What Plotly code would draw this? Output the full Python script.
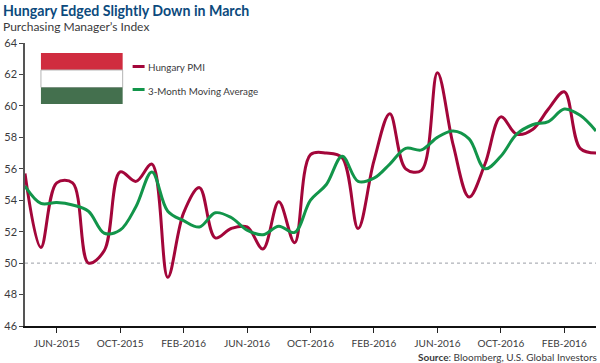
import plotly.graph_objects as go

TITLE = "Hungary Edged Slightly Down in March"
SUBTITLE = "Purchasing Manager’s Index"
SOURCE = "<b>Source</b>: Bloomberg, U.S. Global Investors"
SERIES_A = "Hungary PMI"
SERIES_B = "3-Month Moving Average"

months = list(range(37))
pmi = [55.7, 51.0, 55.1, 55.1, 50.0, 50.8, 55.8, 55.2, 56.3, 49.1, 53.2, 54.8, 51.6,
       52.2, 52.3, 50.9, 53.9, 51.3, 56.9, 57.0, 56.7, 52.2, 56.5, 59.5, 56.0, 55.9,
       62.1, 57.5, 54.2, 56.3, 59.3, 58.2, 58.5, 59.8, 60.9, 57.3, 57.0]
avg = [54.9, 53.8, 53.85, 53.7, 53.3, 51.9, 52.1, 53.6, 55.8, 53.3, 52.7, 52.3, 53.2,
       52.9, 52.1, 51.8, 52.35, 51.95, 54.0, 55.0, 56.8, 55.2, 55.4, 56.3, 57.3, 57.2,
       58.0, 58.4, 57.9, 56.0, 56.8, 58.2, 58.8, 59.0, 59.8, 59.4, 58.4]
tick_pos = [2, 6, 10, 14, 18, 22, 26, 30, 34]
tick_labels = ["JUN-2015", "OCT-2015", "FEB-2016", "JUN-2016", "OCT-2016",
               "FEB-2016", "JUN-2016", "OCT-2016", "FEB-2016"]
y_ticks = [46, 48, 50, 52, 54, 56, 58, 60, 62, 64]

W, H = 600, 363
L, R, T, B = 23, 4, 43, 37
px = lambda x: (x - 2 - L) / (W - L - R)
py = lambda y: (H - B - y) / (H - T - B)

RED = "#a3063a"
GREEN = "#12954a"
TXT = "#3a3a3c"
FONT = "Lato"

fig = go.Figure()
fig.add_trace(go.Scatter(x=months, y=pmi, mode="lines", name=SERIES_A, cliponaxis=False,
                         line=dict(color=RED, width=3, shape="spline", smoothing=1.0)))
fig.add_trace(go.Scatter(x=months, y=avg, mode="lines", name=SERIES_B, cliponaxis=False,
                         line=dict(color=GREEN, width=3, shape="spline", smoothing=1.0)))

paper = dict(xref="paper", yref="paper")
shapes = [
    dict(type="line", xref="x", yref="y", x0=0, x1=36, y0=50, y1=50, layer="below",
         line=dict(color="#9a9ea6", width=1, dash="dot")),
    dict(type="rect", x0=px(41), x1=px(123), y0=py(53), y1=py(70), fillcolor="#d02c3f",
         line_width=0, **paper),
    dict(type="rect", x0=px(41), x1=px(123), y0=py(70), y1=py(87.5), fillcolor="#ffffff",
         line=dict(color="#b5b5b5", width=1), **paper),
    dict(type="rect", x0=px(41), x1=px(123), y0=py(87.5), y1=py(104), fillcolor="#44704e",
         line_width=0, **paper),
    dict(type="line", x0=px(133), x1=px(145), y0=py(66.5), y1=py(66.5),
         line=dict(color=RED, width=3), **paper),
    dict(type="line", x0=px(133), x1=px(145), y0=py(89.5), y1=py(89.5),
         line=dict(color=GREEN, width=3), **paper),
]

def note(text, x, y, size, color=TXT, anchor="left"):
    return dict(text=text, x=px(x), y=py(y), xanchor=anchor, yanchor="middle", showarrow=False,
                font=dict(family=FONT, size=size, color=color), xref="paper", yref="paper",
                borderpad=0, borderwidth=0)

annotations = [
    note("<b>" + TITLE + "</b>", 3, 10.5, 14.2, "#0c4a7d"),
    note(SUBTITLE, 3, 26.5, 12),
    note(SERIES_A, 148, 67.5, 9.8),
    note(SERIES_B, 148, 90.5, 9.8),
    note(SOURCE, 599, 356.5, 10, anchor="right"),
]

fig.update_layout(
    width=W, height=H, autosize=False, showlegend=False,
    margin=dict(l=L, r=R, t=T, b=B),
    paper_bgcolor="white", plot_bgcolor="white",
    font=dict(family=FONT, color=TXT, size=12),
    shapes=shapes, annotations=annotations,
    xaxis=dict(range=[0, 36], tickvals=tick_pos, ticktext=tick_labels, ticks="outside",
               ticklen=5, tickcolor="#222", tickwidth=1, showgrid=False, zeroline=False,
               showline=True, linecolor="#111", linewidth=1.5, ticklabelstandoff=2,
               tickfont=dict(size=10, color=TXT)),
    yaxis=dict(range=[46, 64], tickvals=y_ticks, ticks="outside", ticklen=4, tickcolor="#444",
               tickwidth=1, showgrid=False, zeroline=False, showline=True, linecolor="#555",
               linewidth=1.5, tickfont=dict(size=11, color=TXT)),
)
fig.write_html("out.html", config=dict(displayModeBar=False),
               post_script="document.body.style.margin='0';document.body.style.overflow='hidden';")
